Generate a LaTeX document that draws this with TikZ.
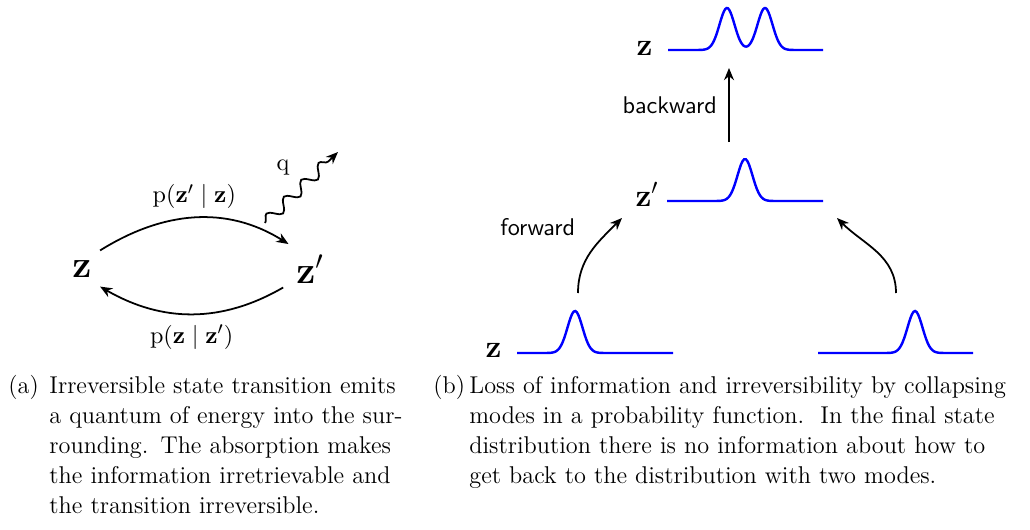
\documentclass[tikz,border=0pt,11pt]{standalone}
\usetikzlibrary{arrows.meta,positioning,decorations.pathmorphing}
\newcommand{\bz}{\mathbf{z}}
\newcommand{\bump}[1]{42*exp(-min(((\x-#1)/7.5)*((\x-#1)/7.5)/2,9))}
\newcommand{\capline}[2]{\makebox[#1][s]{#2}}

\begin{document}
\begin{tikzpicture}[
  x=0.4533pt, y=0.4533pt,
  state/.style={circle, inner sep=4pt, font=\LARGE},
  lbl/.style={inner sep=0pt, font=\Large},
  arr/.style={-{Stealth[length=5.5pt,width=4.5pt]}, thick},
  photon/.style={arr, decorate, decoration={snake, amplitude=2.6pt, segment length=11pt, post length=5pt}},
  dist/.style={blue, line width=1.1pt},
  captext/.style={inner sep=0pt, anchor=base west, align=left, font=\fontsize{11}{13.6}\selectfont},
]
  \useasboundingbox (0,0) rectangle (1030,529);
  % (a) irreversible transition
  \node[state, anchor=base] (z) at (82,252) {$\bz$};
  \node[state, anchor=base] (zp) at (310,246) {$\bz'$};
  \draw[arr] (z.45) to[out=32,in=148] node[midway,above=0pt] (fwd-p) {$\mathrm{p}(\bz' \mid \bz)$} (zp.131);
  \draw[arr] (zp.215) to[out=-150,in=-30] node[midway,below=1pt] (bwd-p) {$\mathrm{p}(\bz \mid \bz')$} (z.-45);
  \coordinate (emit) at (265,306);
  \coordinate (away) at (338,377);
  \draw[photon] (emit) -- (away) node[pos=0.5,above left=2pt] (q) {$\mathrm{q}$};

  % (b) collapsing modes
  \draw[dist] plot[domain=668:823, samples=120] (\x, {479 + \bump{727} + \bump{765}});
  \draw[dist] plot[domain=667:823, samples=100] (\x, {328 + \bump{745}});
  \draw[dist] plot[domain=517:673, samples=100] (\x, {176 + \bump{575}});
  \draw[dist] plot[domain=818:973, samples=100] (\x, {176 + \bump{915}});
  \node[lbl, anchor=base east] (top-z) at (653,474) {$\bz$};
  \node[lbl, anchor=base east] (mid-z) at (659,323) {$\bz'$};
  \node[lbl, anchor=base east] (low-z) at (502,172) {$\bz$};
  \coordinate (fwd-from) at (578,236);
  \coordinate (fwd-to) at (622,311);
  \coordinate (col-from) at (896,236);
  \coordinate (col-to) at (837,311);
  \coordinate (bwd-from) at (729,387);
  \coordinate (bwd-to) at (729,461);
  \draw[arr] (fwd-from) to[out=90,in=225] node[pos=0.8,left=11pt,yshift=2pt,font=\sffamily] (fwd-lbl) {forward} (fwd-to);
  \draw[arr] (col-from) to[out=90,in=-45] (col-to);
  \draw[arr] (bwd-from) -- (bwd-to) node[midway,left=1.5pt,font=\sffamily] (bwd-lbl) {backward};

  % captions
  \node[captext] (cap-a-tag) at (8,135.5) {(a)};
  \node[captext, text width=156.8pt] (cap-a) at (49,135.5) {\capline{156.8pt}{Irreversible state transition emits}\\
    \capline{156.8pt}{a quantum of energy into the sur-}\\
    \capline{156.8pt}{rounding. The absorption makes}\\
    \capline{156.8pt}{the information irretrievable and}\\
    the transition irreversible.};
  \node[captext] (cap-b-tag) at (433,135.5) {(b)};
  \node[captext, text width=251.1pt] (cap-b) at (469,135.5) {\capline{251.1pt}{Loss of information and irreversibility by collapsing}\\
    \capline{251.1pt}{modes in a probability function.\ \ In the final state}\\
    \capline{251.1pt}{distribution there is no information about how to}\\
    get back to the distribution with two modes.};
\end{tikzpicture}
\end{document}
